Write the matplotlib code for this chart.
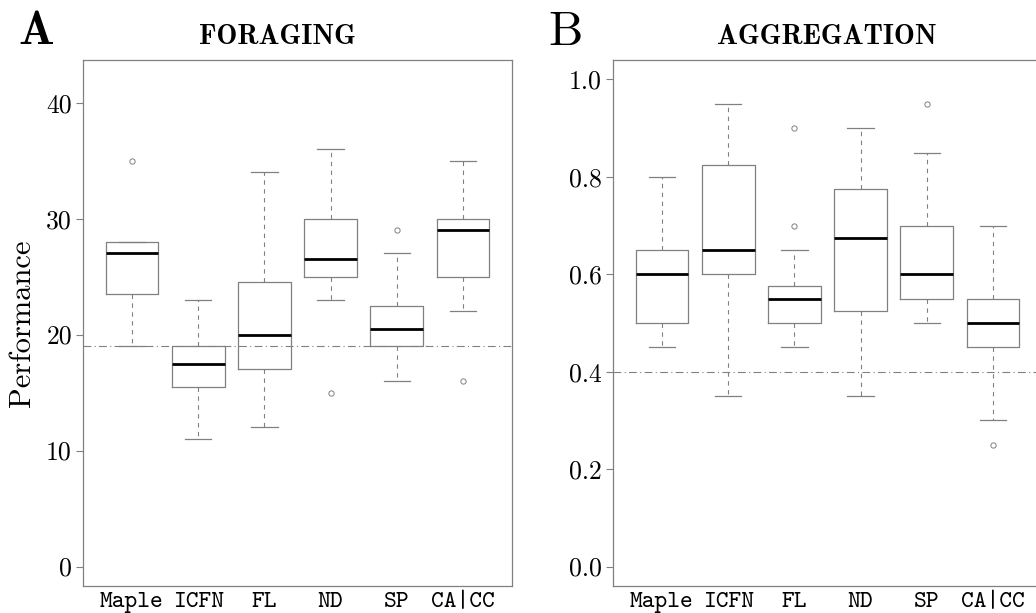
import matplotlib
matplotlib.use("Agg")
import matplotlib.pyplot as plt

categories = ["Maple", "ICFN", "FL", "ND", "SP", "CA|CC"]

# Foraging
f_whislo = [19, 11, 12, 23, 16, 22]
f_q1     = [23.5, 15.5, 17, 25, 19, 25]
f_med    = [27, 17.5, 20, 26.5, 20.5, 29]
f_q3     = [28, 19, 24.5, 30, 22.5, 30]
f_whishi = [28, 23, 34, 36, 27, 35]
f_fliers = [[35], [], [], [15], [29], [16]]
f_ref = 19

# Aggregation
a_whislo = [0.45, 0.35, 0.45, 0.35, 0.50, 0.30]
a_q1     = [0.50, 0.60, 0.50, 0.525, 0.55, 0.45]
a_med    = [0.60, 0.65, 0.55, 0.675, 0.60, 0.50]
a_q3     = [0.65, 0.825, 0.575, 0.775, 0.70, 0.55]
a_whishi = [0.80, 0.95, 0.65, 0.90, 0.85, 0.70]
a_fliers = [[], [], [0.9, 0.7], [], [0.95], [0.25]]
a_ref = 0.4

plt.rcParams['mathtext.fontset'] = 'cm'
plt.rcParams['font.family'] = ['cmr10', 'DejaVu Serif']
plt.rcParams['axes.formatter.use_mathtext'] = True

GRAY = '#808080'
W, H = 1036, 613
fig = plt.figure(figsize=(W / 100, H / 100), dpi=100)

def make_stats(lo, q1, med, q3, hi, fl):
    return [dict(whislo=a, q1=b, med=c, q3=d, whishi=e, fliers=f)
            for a, b, c, d, e, f in zip(lo, q1, med, q3, hi, fl)]

def panel(rect, stats, ylim, yticks, ylabels, ref):
    ax = fig.add_axes(rect)
    ax.bxp(stats, positions=range(1, 7), widths=0.8, capwidths=0.4,
           boxprops=dict(color=GRAY, lw=0.9),
           medianprops=dict(color='black', lw=2.0),
           whiskerprops=dict(color=GRAY, lw=0.8, linestyle=(0, (4, 4))),
           capprops=dict(color=GRAY, lw=0.9),
           flierprops=dict(marker='o', markersize=3.8, markerfacecolor='none',
                           markeredgecolor=GRAY, markeredgewidth=0.7))
    ax.axhline(ref, color=GRAY, lw=0.8, linestyle=(0, (7, 3, 1, 3)), zorder=0)
    ax.set_xlim(0.26, 6.74)
    span = ylim[1] - ylim[0]
    ax.set_ylim(ylim[0] - 0.04 * span, ylim[1] + 0.04 * span)
    ax.set_xticks(range(1, 7))
    ax.set_xticklabels(categories, fontsize=17.5, family=['cmtt10', 'DejaVu Sans Mono'])
    ax.set_yticks(yticks)
    ax.set_yticklabels(ylabels, fontsize=18.5)
    ax.tick_params(axis='x', length=0, pad=4)
    ax.tick_params(axis='y', length=5, color=GRAY, width=0.8, pad=3)
    for s in ax.spines.values():
        s.set_color(GRAY)
        s.set_linewidth(0.9)
    return ax

axh = 526 / H
axb = (H - 586) / H
ax1 = panel([83 / W, axb, 429 / W, axh],
            make_stats(f_whislo, f_q1, f_med, f_q3, f_whishi, f_fliers),
            (0, 42), [0, 10, 20, 30, 40], ["0", "10", "20", "30", "40"],
            f_ref)
ax1.set_ylabel("Performance", fontsize=22, labelpad=7)

ax2 = panel([613 / W, axb, 429 / W, axh],
            make_stats(a_whislo, a_q1, a_med, a_q3, a_whishi, a_fliers),
            (0, 1), [0, 0.2, 0.4, 0.6, 0.8, 1.0],
            ["0.0", "0.2", "0.4", "0.6", "0.8", "1.0"],
            a_ref)

fig.text(277.5 / W, 1 - 44.5 / H, "FORAGING", fontsize=20, family='cmb10',
         ha='center', va='baseline')
fig.text(827 / W, 1 - 44.5 / H, "AGGREGATION", fontsize=20, family='cmb10',
         ha='center', va='baseline')

fig.text(18 / W, 1 - 44 / H, "A", fontsize=34, family='cmb10', va='baseline')
fig.text(548 / W, 1 - 45 / H, "B", fontsize=35, va='baseline')

fig.savefig("out.png", dpi=100)
